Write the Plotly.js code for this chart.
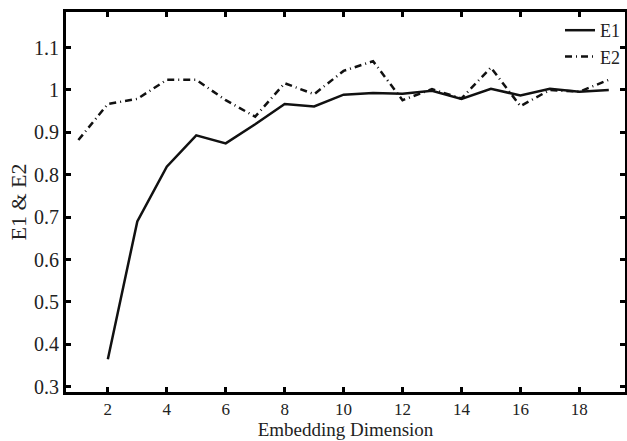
<!DOCTYPE html>
<html>
<head>
<meta charset="utf-8">
<script src="https://cdn.plot.ly/plotly-3.0.1.min.js"></script>
<style>html,body{margin:0;padding:0;background:#fff;}#chart{width:627px;height:441px;}</style>
</head>
<body>
<div id="chart"></div>
<script>
const e1X = [2,3,4,5,6,7,8,9,10,11,12,13,14,15,16,17,18,19];
const e1Y = [0.365,0.690,0.819,0.893,0.874,0.919,0.967,0.961,0.989,0.993,0.991,0.998,0.979,1.003,0.987,1.003,0.996,1.000];
const e2X = [1,2,3,4,5,6,7,8,9,10,11,12,13,14,15,16,17,18,19];
const e2Y = [0.882,0.967,0.979,1.024,1.024,0.976,0.937,1.016,0.990,1.045,1.068,0.976,1.002,0.980,1.053,0.962,1.000,0.996,1.024];
const xTicks = [2,4,6,8,10,12,14,16,18];
const yTicks = [0.3,0.4,0.5,0.6,0.7,0.8,0.9,1,1.1];
const yTickText = ['0.3','0.4','0.5','0.6','0.7','0.8','0.9','1','1.1'];

const FAM = 'Liberation Serif, serif';
const traces = [
  {x: e1X, y: e1Y, name: 'E1', mode: 'lines', line: {color: '#111', width: 2.5}},
  {x: e2X, y: e2Y, name: 'E2', mode: 'lines', line: {color: '#111', width: 2.5, dash: '7px,4px,1px,4px'}}
];
function axis(extra) {
  return Object.assign({
    showgrid: false, zeroline: false, showline: true, linecolor: '#000', linewidth: 3,
    mirror: 'ticks', ticks: 'inside', ticklen: 5, tickwidth: 3, tickcolor: '#000',
    tickfont: {family: FAM, size: 20, color: '#222'}
  }, extra);
}
const layout = {
  width: 627, height: 441,
  margin: {l: 66, r: 2, t: 12, b: 49},
  paper_bgcolor: '#fff', plot_bgcolor: '#fff',
  font: {family: FAM, size: 20, color: '#222'},
  showlegend: true,
  legend: {x: 1, xanchor: 'right', y: 1.0, yanchor: 'top', bgcolor: 'rgba(0,0,0,0)',
           font: {family: FAM, size: 18, color: '#222'}, tracegroupgap: 0, itemwidth: 30},
  xaxis: axis({
    range: [0.58, 19.55], tickvals: xTicks, ticktext: xTicks.map(String),
    tickfont: {family: FAM, size: 17, color: '#222'},
    title: {text: 'Embedding Dimension', font: {family: FAM, size: 19, color: '#222'}, standoff: 0}
  }),
  yaxis: axis({
    range: [0.2875, 1.184], tickvals: yTicks, ticktext: yTickText,
    title: {text: 'E1 & E2', font: {family: FAM, size: 22, color: '#222'}, standoff: 2}
  })
};
Plotly.newPlot('chart', traces, layout, {displayModeBar: false, staticPlot: true});
</script>
</body>
</html>
